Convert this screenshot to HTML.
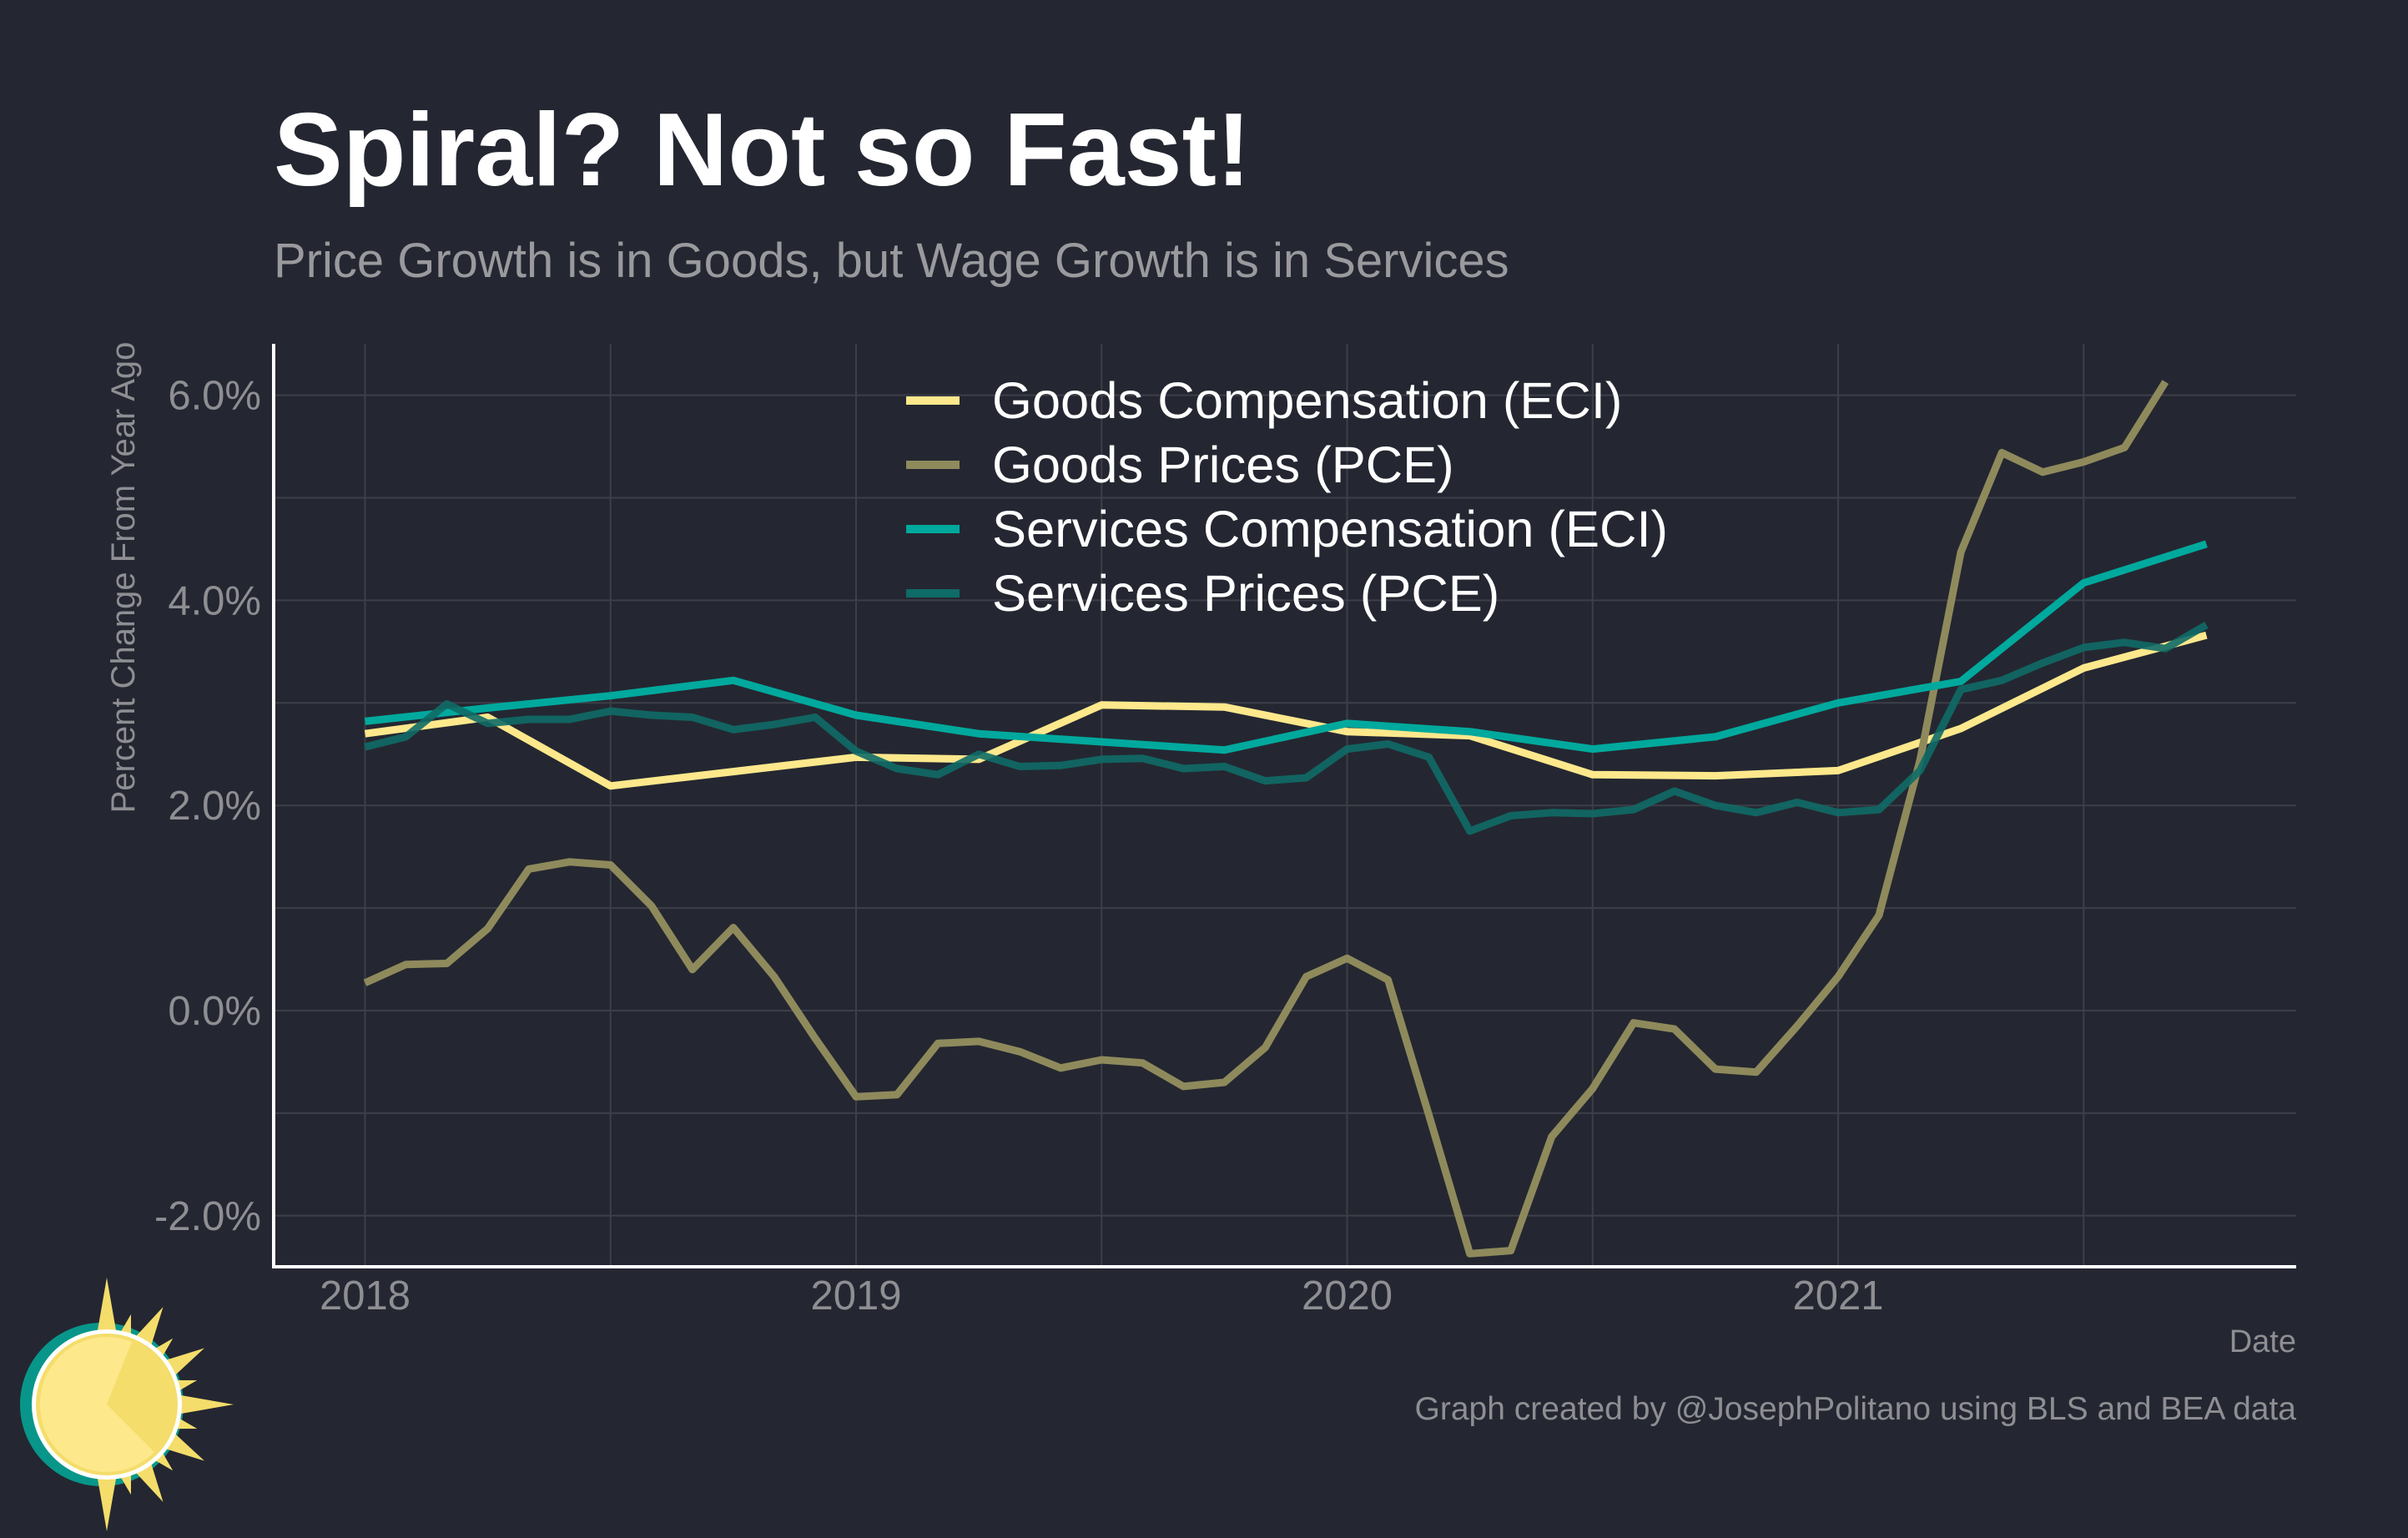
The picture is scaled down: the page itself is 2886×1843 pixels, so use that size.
<!DOCTYPE html>
<html><head><meta charset="utf-8"><style>
html,body{margin:0;padding:0;background:#242731;}
svg{display:block;font-family:"Liberation Sans",Arial,sans-serif;}
</style></head><body>
<svg id="chart" width="2886" height="1843" viewBox="0 0 2886 1843">
<rect x="0" y="0" width="2886" height="1843" fill="#242731"/>
<text x="328" y="222" font-size="124" font-weight="bold" fill="#ffffff">Spiral? Not so Fast!</text>
<text x="328" y="332" font-size="58" fill="#9a9a9e">Price Growth is in Goods, but Wage Growth is in Services</text>
<g id="grid"></g>
<g id="series"></g>
<line x1="328" y1="412" x2="328" y2="1520" stroke="#ffffff" stroke-width="4"/>
<line x1="326" y1="1518" x2="2752" y2="1518" stroke="#ffffff" stroke-width="4"/>
<g id="yticks"></g>
<g id="xticks"></g>
<text transform="translate(161,692) rotate(-90)" text-anchor="middle" font-size="40" fill="#8e8e93">Percent Change From Year Ago</text>
<text x="2752" y="1620" text-anchor="end" font-size="38" fill="#8e8e93">Date</text>
<text x="2752" y="1701" text-anchor="end" font-size="39" fill="#8e8e93">Graph created by @JosephPolitano using BLS and BEA data</text>
<g id="legend"></g>
<g>
<circle cx="122" cy="1683" r="98" fill="#08968a"/>
<g id="spikes" fill="#f4dd6b"></g>
<circle cx="128" cy="1683" r="90" fill="#ffffff"/>
<circle cx="128" cy="1683" r="85" fill="#f4dd6b"/>
<path d="M128,1683 L158,1608 A80,80 0 0 0 48,1683 A80,80 0 0 0 185,1740 Z" fill="#fde88c"/>
</g>
</svg>
<script>
const NS='http://www.w3.org/2000/svg';
const yTicks=[-2,0,2,4,6];
const yTickLabels=['-2.0%','0.0%','2.0%','4.0%','6.0%'];
const xTicks=[2018,2019,2020,2021];
const xTickLabels=['2018','2019','2020','2021'];
const seriesNames=['Goods Compensation (ECI)','Goods Prices (PCE)','Services Compensation (ECI)','Services Prices (PCE)'];
const goodsPricesStart=2018;
const goodsPrices=[0.27,0.45,0.46,0.8,1.38,1.45,1.42,1.02,0.4,0.81,0.33,-0.27,-0.84,-0.82,-0.32,-0.3,-0.4,-0.56,-0.48,-0.51,-0.74,-0.7,-0.36,0.33,0.51,0.3,-1.02,-2.37,-2.34,-1.23,-0.76,-0.12,-0.18,-0.57,-0.6,-0.15,0.33,0.93,2.44,4.47,5.44,5.25,5.35,5.49,6.13];
const servicesPrices=[2.57,2.67,2.99,2.8,2.84,2.84,2.92,2.88,2.86,2.74,2.79,2.86,2.53,2.36,2.3,2.5,2.38,2.39,2.45,2.46,2.36,2.38,2.24,2.27,2.55,2.6,2.47,1.75,1.9,1.93,1.92,1.96,2.14,2.0,1.93,2.03,1.93,1.96,2.34,3.13,3.22,3.39,3.54,3.59,3.53,3.76];
const goodsComp=[2.7,2.86,2.19,2.33,2.47,2.45,2.98,2.96,2.72,2.68,2.3,2.29,2.34,2.75,3.34,3.66];
const servicesComp=[2.82,2.95,3.07,3.22,2.88,2.7,2.62,2.54,2.8,2.72,2.55,2.67,3.0,3.21,4.17,4.55];
const X0=437.5, YEARW=588.5, Y0=1211, PCT=122.9;
const xs=t=>X0+(t-2018)*YEARW;
const ys=v=>Y0-v*PCT;
function mk(tag,attrs,parent){const e=document.createElementNS(NS,tag);for(const k in attrs)e.setAttribute(k,attrs[k]);parent.appendChild(e);return e;}
const grid=document.getElementById('grid');
for(let v=-3;v<=6;v++){const y=ys(v);if(y<412||y>1518)continue;
 const l=mk('line',{x1:328,x2:2752,y1:y,y2:y,stroke:'#3c3f48','stroke-width':2},grid);
 
 }
for(let t=2018;t<=2021.75;t+=0.5){const x=xs(t);
 const l=mk('line',{x1:x,x2:x,y1:412,y2:1518,stroke:'#3c3f48','stroke-width':2},grid);
 
 }
const yt=document.getElementById('yticks');
yTicks.forEach((v,i)=>{const t=mk('text',{x:313,y:ys(v)+17,'text-anchor':'end','font-size':49,fill:'#8e8e93'},yt);t.textContent=yTickLabels[i];
 
 });
const xt=document.getElementById('xticks');
xTicks.forEach((v,i)=>{const t=mk('text',{x:xs(v),y:1569,'text-anchor':'middle','font-size':49,fill:'#8e8e93'},xt);t.textContent=xTickLabels[i];
 
 });
const sg=document.getElementById('series');
function line(vals,step,color,op,name){
 const pts=vals.map((v,i)=>xs(goodsPricesStart+i*step).toFixed(1)+','+ys(v).toFixed(1)).join(' ');
 const p=mk('polyline',{points:pts,fill:'none',stroke:color,'stroke-opacity':op,'stroke-width':9,'stroke-linejoin':'round'},sg);
 
 }
const colors=['#fde88c','#8f8a5c','#00a99d','#0f6b67'];
line(goodsComp,0.25,colors[0],1,'goods-compensation-line');
line(goodsPrices,1/12,colors[1],1,'goods-prices-line');
line(servicesComp,0.25,colors[2],1,'services-compensation-line');
line(servicesPrices,1/12,colors[3],0.9,'services-prices-line');
const lg=document.getElementById('legend');
seriesNames.forEach((n,i)=>{const y=480+i*77;
 const l=mk('line',{x1:1086,x2:1150,y1:y,y2:y,stroke:colors[i],'stroke-width':10},lg);
 
 
 const t=mk('text',{x:1189,y:y+21,'font-size':61.5,fill:'#ffffff'},lg);t.textContent=n;
 
 });
const sp=document.getElementById('spikes');
const cx=128,cy=1683;
for(let k=0;k<=12;k++){const a=(-90+k*15)*Math.PI/180;const R=(k%6==0)?152:(k%2==0?135:112);const w=(k%2==0)?0.16:0.11;
 const r0=80;
 const pts=[[cx+r0*Math.cos(a-w),cy+r0*Math.sin(a-w)],[cx+R*Math.cos(a),cy+R*Math.sin(a)],[cx+r0*Math.cos(a+w),cy+r0*Math.sin(a+w)]];
 mk('polygon',{points:pts.map(p=>p.join(',')).join(' ')},sp);}
</script>
</body></html>
